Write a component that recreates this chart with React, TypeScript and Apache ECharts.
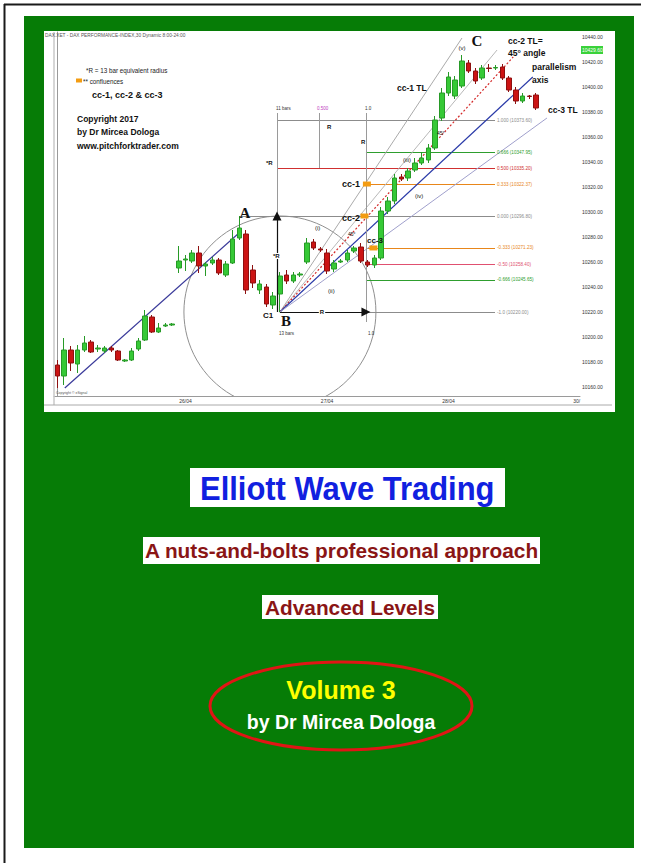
import { useEffect, useRef } from "react";
import * as echarts from "echarts";

// ---------- data ----------
const barCount = 78;
const categories = Array.from({ length: barCount }, (_, i) => `${i + 1}`);

const barOpen = [
  10177.6, 10168.8, 10189.6, 10178.4, 10189.6, 10196.0, 10190.4, 10188.8, 10191.2, 10188.8,
  10180.8, 10181.6, 10190.4, 10197.6, 10216.0, 10204.0, 10208.8, 10209.6, 10255.2, 10261.6,
  10260.8, 10267.2, 10256.8, 10259.2, 10261.6, 10249.6, 10259.2, 10279.2, 10282.4, 10253.6,
  10237.6, 10240.0, 10225.6, 10234.4, 10249.6, 10244.8, 10249.6, 10260.0, 10276.0, 10270.4,
  10267.2, 10254.4, 10260.0, 10261.6, 10268.8, 10272.0, 10260.0, 10257.6, 10263.2, 10300.8,
  10308.8, 10328.0, 10327.2, 10333.6, 10339.2, 10341.6, 10351.2, 10375.2, 10395.2, 10392.8,
  10400.8, 10419.2, 10412.8, 10407.2, 10415.2, 10415.2, 10416.0, 10407.2, 10397.6, 10388.8,
  10392.8, 10393.6,
];
const barClose = [
  10168.8, 10189.6, 10179.2, 10189.6, 10195.2, 10188.0, 10191.2, 10191.2, 10189.6, 10181.6,
  10181.6, 10188.8, 10196.8, 10216.8, 10204.0, 10207.2, 10209.6, 10210.4, 10260.8, 10262.4,
  10267.2, 10256.8, 10258.4, 10261.6, 10251.2, 10258.4, 10278.4, 10287.2, 10237.6, 10243.2,
  10242.4, 10226.4, 10232.8, 10248.8, 10244.8, 10249.6, 10250.4, 10275.2, 10271.2, 10269.6,
  10252.8, 10259.2, 10260.8, 10267.2, 10271.2, 10260.8, 10257.6, 10263.2, 10300.8, 10308.8,
  10327.2, 10326.4, 10332.8, 10339.2, 10343.2, 10351.2, 10373.6, 10395.2, 10408.0, 10405.6,
  10420.8, 10412.8, 10404.8, 10415.2, 10414.8, 10415.6, 10407.2, 10397.6, 10388.8, 10392.8,
  10392.4, 10383.2,
];
const barLow = [
  10159.2, 10161.6, 10172.8, 10171.2, 10188.0, 10187.2, 10188.0, 10187.2, 10188.0, 10180.8,
  10180.0, 10180.8, 10188.8, 10196.8, 10203.2, 10203.2, 10208.0, 10208.8, 10251.2, 10252.8,
  10259.2, 10251.2, 10248.8, 10257.6, 10249.6, 10248.0, 10258.4, 10277.6, 10234.4, 10239.2,
  10234.4, 10224.0, 10222.4, 10220.0, 10242.4, 10243.2, 10248.0, 10258.4, 10269.6, 10268.0,
  10250.4, 10252.0, 10259.2, 10260.0, 10267.2, 10259.2, 10256.0, 10255.2, 10261.6, 10298.4,
  10306.4, 10324.8, 10324.8, 10332.0, 10337.6, 10339.2, 10349.6, 10372.8, 10392.8, 10390.4,
  10399.2, 10411.2, 10402.4, 10405.6, 10412.0, 10413.6, 10405.6, 10396.0, 10386.4, 10387.2,
  10390.4, 10381.6,
];
const barHigh = [
  10181.6, 10199.2, 10192.8, 10193.6, 10200.8, 10197.6, 10193.6, 10192.8, 10192.8, 10189.6,
  10182.4, 10191.2, 10199.2, 10221.6, 10217.6, 10211.2, 10211.2, 10211.2, 10272.8, 10265.6,
  10269.6, 10272.8, 10260.0, 10264.0, 10263.2, 10260.8, 10285.6, 10296.8, 10285.6, 10257.6,
  10245.6, 10242.4, 10236.0, 10252.0, 10253.6, 10252.0, 10252.0, 10279.2, 10278.4, 10272.0,
  10270.4, 10261.6, 10262.4, 10269.6, 10272.8, 10275.2, 10261.6, 10265.6, 10304.0, 10312.0,
  10330.4, 10330.4, 10335.2, 10343.2, 10348.0, 10354.4, 10376.8, 10399.2, 10412.0, 10408.8,
  10425.6, 10421.6, 10415.2, 10417.6, 10418.4, 10417.6, 10418.4, 10408.8, 10400.0, 10395.2,
  10393.6, 10395.2,
];

const dayTickBars = [19, 40, 58, 77];
const dayTickLabels = ["26/04", "27/04", "28/04", "30/"];
const priceTicks = [
  10160, 10180, 10200, 10220, 10240, 10260, 10280, 10300, 10320, 10340, 10360, 10380, 10400,
  10420, 10440,
];
const lastPriceTag = 10429.6;

// pivots: [bar slot, price]
const pivotA = [27, 10296.8];
const pivotB = [33, 10220.0];
const fibRatios = [1, 0.666, 0.5, 0.333, 0, -0.333, -0.5, -0.666, -1];
const fibNames = ["1.000", "0.666", "0.500", "0.333", "0.000", "-0.333", "-0.50", "-0.666", "-1.0"];
const fibStartBar = [32.57, 45.76, 32.57, 45.76, 27.08, 45.76, 45.76, 45.76, 33];
const fibEndBar = 64.9;

const trendStart = [1.1, 10159.2];
const trendEnd = [27.1, 10284.0];
const cc1End = [60.0, 10439.2];
const greyFanEnd = [65.2, 10429.6];
const cc2End = [67.6, 10424.0];
const axisEnd = [70.5, 10408.0];
const cc3End = [72.6, 10375.2];
const rulerBars = [32.57, 38.79, 45.76];
const rulerTop = 10379.2;
const rulerBottom = [10296.8, 10335.2, 10212.0];
const confluenceBars = [45.9, 45.54, 46.87];
const confluenceRatios = [0.333, 0, -0.333];

// ---------- styles ----------
const SANS = "'Liberation Sans', Arial, sans-serif";
const SERIF = "'Liberation Serif', 'Times New Roman', serif";
const fibColors = ["#8c8c8c", "#2e9e2e", "#d03030", "#e8861a", "#8c8c8c", "#e8861a", "#e05070", "#2e9e2e", "#8c8c8c"];

const fibPrice = (r: number) => pivotA[1] + r * (pivotA[1] - pivotB[1]);

const T = (text: string, x: number, y: number, size: number, o: any = {}) => ({
  type: "text",
  x,
  y,
  z: 50,
  silent: true,
  scaleX: o.scaleX ?? 1,
  originX: 0,
  style: {
    text,
    fill: o.color ?? "#111",
    font: `${o.bold ? "bold " : ""}${size}px ${o.serif ? SERIF : SANS}`,
    align: o.align ?? "left",
    verticalAlign: "middle",
    textAlign: o.align ?? "left",
    textVerticalAlign: "middle",
    backgroundColor: o.bg,
    padding: o.bg ? [0, 1] : 0,
  },
});

export default function App() {
  const ref = useRef<HTMLDivElement>(null);

  useEffect(() => {
    if (!ref.current) return;
    const chart = echarts.init(ref.current, null, { renderer: "svg" });

    const candles = barOpen.map((o, i) => [o, barClose[i], barLow[i], barHigh[i]]);
    const tickMap: Record<number, string> = {};
    dayTickBars.forEach((b, i) => (tickMap[b] = dayTickLabels[i]));

    const fibData = fibRatios.map((r, i) => {
      const p = fibPrice(r);
      return {
        coords: [
          [fibStartBar[i], p],
          [fibEndBar, p],
        ],
        lineStyle: { color: fibColors[i], width: 1, opacity: 1 },
        label: {
          show: true,
          position: "end",
          distance: 2,
          formatter: `${fibNames[i]} (${p.toFixed(2)})`,
          color: fibColors[i],
          fontSize: 4.6,
          fontFamily: SANS,
        },
      };
    });

    const annLines = [
      { coords: [trendStart, trendEnd], lineStyle: { color: "#3a3a9a", width: 1.2 } },
      { coords: [pivotB, cc1End], lineStyle: { color: "#aaaaaa", width: 1 } },
      { coords: [pivotB, greyFanEnd], lineStyle: { color: "#b8b8b8", width: 1 } },
      { coords: [pivotB, cc2End], lineStyle: { color: "#d42a2a", width: 1.2, type: [2, 2] } },
      { coords: [pivotB, axisEnd], lineStyle: { color: "#2a3aa8", width: 1.2 } },
      { coords: [pivotB, cc3End], lineStyle: { color: "#a0a0cc", width: 1 } },
      ...rulerBars.map((b, i) => ({
        coords: [
          [b, rulerTop],
          [b, rulerBottom[i]],
        ],
        lineStyle: { color: "#9a9a9a", width: 1 },
      })),
    ];

    const arrowLines = [
      { coords: [[rulerBars[0], pivotB[1]], [rulerBars[0], pivotA[1]]] },
      { coords: [[pivotB[0], pivotB[1]], [rulerBars[2], pivotB[1]]] },
    ];

    const confluence = confluenceBars.map((b, i) => [b, fibPrice(confluenceRatios[i])]);

    const graphics: any[] = [
      // page frame
      { type: "line", z: -10, silent: true, shape: { x1: 4.5, y1: 4, x2: 4.5, y2: 863 }, style: { stroke: "#1a1a1a", lineWidth: 2 } },
      { type: "line", z: -10, silent: true, shape: { x1: 4, y1: 4.5, x2: 641, y2: 4.5 }, style: { stroke: "#1a1a1a", lineWidth: 2 } },
      { type: "rect", z: -10, silent: true, shape: { x: 24, y: 16, width: 610, height: 832 }, style: { fill: "#067c06" } },
      { type: "rect", z: -9, silent: true, shape: { x: 44, y: 31, width: 571, height: 381 }, style: { fill: "#ffffff" } },
      { type: "line", z: 1, silent: true, shape: { x1: 54, y1: 32, x2: 54, y2: 405 }, style: { stroke: "#c8c8c8", lineWidth: 1.5 } },
      { type: "line", z: 1, silent: true, shape: { x1: 44, y1: 405, x2: 612, y2: 405 }, style: { stroke: "#aaaaaa", lineWidth: 1 } },

      // chart notes
      T("DAX.XET - DAX PERFORMANCE-INDEX,30 Dynamic 8:00-24:00", 45, 35, 4.8, { color: "#555" }),
      T("*R = 13 bar equivalent radius", 86, 70, 6.3, { color: "#222" }),
      { type: "rect", z: 50, silent: true, shape: { x: 76, y: 78.5, width: 6, height: 4 }, style: { fill: "#f39c12" } },
      T("** confluences", 83, 81, 6.3, { color: "#222" }),
      T("cc-1, cc-2 & cc-3", 92, 95, 9, { bold: true }),
      T("Copyright 2017", 77, 119, 8.5, { bold: true }),
      T("by Dr Mircea Dologa", 77, 132, 8.5, { bold: true }),
      T("www.pitchforktrader.com", 77, 146, 8.5, { bold: true }),

      T("C", 477, 41, 15, { serif: true, bold: true, align: "center" }),
      T("(v)", 462, 48, 6, { align: "center" }),
      T("cc-2 TL=", 508, 41, 8.5, { bold: true }),
      T("45° angle", 508, 53, 8.5, { bold: true }),
      T("parallelism", 532, 67, 8.5, { bold: true }),
      T("axis", 532, 80, 8.5, { bold: true }),
      T("cc-3 TL", 548, 110, 8.5, { bold: true }),
      T("cc-1 TL", 397, 88, 8.5, { bold: true }),
      T("11 bars", 276, 108, 4.5, { color: "#333" }),
      T("0.500", 317, 108, 4.5, { color: "#c040c0" }),
      T("1.0", 365, 108, 4.5, { color: "#333" }),
      T("R", 327, 127, 6, { bold: true }),
      T("R", 361, 142, 6, { bold: true }),
      T("*R", 266, 163, 6, { bold: true }),
      T("cc-1", 342, 184, 9, { bold: true }),
      T("cc-2", 342, 218, 9, { bold: true }),
      T("cc-3", 367, 240, 8, { bold: true }),
      T("45°", 348, 234, 5),
      T("45°", 437, 133, 5),
      T("(i)", 315, 228, 6),
      T("(ii)", 328, 291, 6),
      T("(iii)", 403, 160, 6),
      T("(iv)", 415, 196, 6),
      T("A", 245, 213, 15, { serif: true, bold: true, align: "center" }),
      T("*R", 272, 256, 6, { bold: true, bg: "#ffffff" }),
      T("C1", 263, 315, 8, { bold: true }),
      T("B", 286, 321, 15, { serif: true, bold: true, align: "center" }),
      T("13 bars", 279, 333, 4.5, { color: "#333" }),
      T("R", 322, 312, 6, { bold: true, align: "center", bg: "#ffffff" }),
      T("1.0", 368, 333, 4.5, { color: "#333" }),
      T("Copyright © eSignal", 56, 393, 3.5, { color: "#555" }),
      { type: "rect", z: 50, silent: true, shape: { x: 581, y: 46, width: 22, height: 8 }, style: { fill: "#3ad23a" } },
      T(lastPriceTag.toFixed(2), 582, 50, 5, { color: "#ffffff" }),

      // cover titles
      { type: "rect", z: 20, silent: true, shape: { x: 190, y: 468, width: 315, height: 39 }, style: { fill: "#ffffff" } },
      T("Elliott Wave Trading", 200, 488, 34, { bold: true, color: "#1020e0", scaleX: 0.91 }),
      { type: "rect", z: 20, silent: true, shape: { x: 143, y: 537, width: 397, height: 27 }, style: { fill: "#ffffff" } },
      T("A nuts-and-bolts professional approach", 341.5, 550.5, 20.8, { bold: true, color: "#8a1515", align: "center" }),
      { type: "rect", z: 20, silent: true, shape: { x: 262, y: 595, width: 176, height: 24 }, style: { fill: "#ffffff" } },
      T("Advanced Levels", 350, 607.5, 20.8, { bold: true, color: "#8a1515", align: "center" }),
      { type: "ellipse", z: 20, silent: true, shape: { cx: 341, cy: 706, rx: 131, ry: 44 }, style: { fill: "none", stroke: "#e01515", lineWidth: 3 } },
      T("Volume 3", 341, 690, 25, { bold: true, color: "#ffff00", align: "center" }),
      T("by Dr Mircea Dologa", 341, 722, 19.5, { bold: true, color: "#ffffff", align: "center" }),
    ];

    const option: any = {
      animation: false,
      backgroundColor: "#ffffff",
      grid: { left: 54, top: 32, width: 526, height: 364 },
      xAxis: [
        {
          type: "category",
          data: categories,
          boundaryGap: true,
          axisLine: { lineStyle: { color: "#9a9a9a" } },
          axisTick: { show: false },
          splitLine: { show: false },
          axisLabel: {
            interval: 0,
            fontSize: 5,
            color: "#333",
            margin: 2,
            fontFamily: SANS,
            formatter: (_v: string, i: number) => tickMap[i] ?? "",
          },
        },
        { type: "value", min: -0.5, max: barCount - 0.5, show: false },
      ],
      yAxis: [
        {
          type: "value",
          position: "right",
          min: 10152.8,
          max: 10444.0,
          axisLine: { show: true, lineStyle: { color: "#9a9a9a" } },
          axisTick: { show: false },
          splitLine: { show: false },
          axisLabel: {
            customValues: priceTicks,
            fontSize: 5,
            color: "#333",
            margin: 2,
            fontFamily: SANS,
            formatter: (v: number) => v.toFixed(2),
          },
        },
      ],
      graphic: { elements: graphics },
      series: [
        {
          type: "custom",
          xAxisIndex: 1,
          yAxisIndex: 0,
          clip: true,
          silent: true,
          z: 1,
          data: [[pivotB[0], pivotB[1], pivotA[1] - pivotB[1]]],
          encode: { x: 0, y: 1 },
          renderItem: (_p: any, api: any) => {
            const c = api.coord([api.value(0), api.value(1)]);
            const r = api.size([0, api.value(2)])[1];
            return {
              type: "circle",
              shape: { cx: c[0], cy: c[1], r },
              style: { fill: "none", stroke: "#909090", lineWidth: 1 },
            };
          },
        },
        {
          type: "lines",
          coordinateSystem: "cartesian2d",
          xAxisIndex: 1,
          yAxisIndex: 0,
          silent: true,
          z: 3,
          lineStyle: { opacity: 1, width: 1 },
          data: fibData,
        },
        {
          type: "lines",
          coordinateSystem: "cartesian2d",
          xAxisIndex: 1,
          yAxisIndex: 0,
          silent: true,
          z: 3,
          lineStyle: { opacity: 1, width: 1 },
          data: annLines,
        },
        {
          type: "candlestick",
          xAxisIndex: 0,
          yAxisIndex: 0,
          barWidth: 5,
          z: 5,
          silent: true,
          itemStyle: {
            color: "#36c936",
            color0: "#cc1414",
            borderColor: "#279a27",
            borderColor0: "#8e1010",
            borderWidth: 1,
          },
          data: candles,
        },
        {
          type: "lines",
          coordinateSystem: "cartesian2d",
          xAxisIndex: 1,
          yAxisIndex: 0,
          silent: true,
          z: 6,
          symbol: ["none", "triangle"],
          symbolSize: 9,
          lineStyle: { color: "#111", width: 1.2, opacity: 1 },
          data: arrowLines,
        },
        {
          type: "scatter",
          xAxisIndex: 1,
          yAxisIndex: 0,
          silent: true,
          z: 7,
          symbol: "rect",
          symbolSize: [8, 5],
          itemStyle: { color: "#f39c12", opacity: 1 },
          data: confluence,
        },
      ],
    };

    chart.setOption(option);
    return () => chart.dispose();
  }, []);

  return (
    <div
      ref={ref}
      style={{ position: "absolute", left: 0, top: 0, width: 647, height: 863 }}
    />
  );
}
